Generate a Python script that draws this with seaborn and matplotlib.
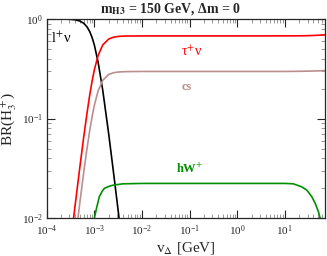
import matplotlib
matplotlib.use("Agg")
import matplotlib.pyplot as plt
import seaborn as sns
import pandas as pd
from matplotlib.ticker import LogLocator, NullFormatter

# ---------------- data ----------------
v_main = [1e-4, 2e-4, 3e-4, 4e-4, 5e-4, 6e-4, 7e-4, 8e-4, 9e-4, 1e-3,
          1.2e-3, 1.5e-3, 2e-3, 2.5e-3, 3e-3, 3.5e-3, 4e-3, 5e-3, 1e-2,
          0.1, 1.0, 10.0, 20.0, 30.0, 40.0, 50.0, 60.0, 70.0]
br_lnu = [1.0, 0.9987, 0.993, 0.979, 0.951, 0.903, 0.833, 0.746, 0.647, 0.546,
          0.367, 0.192, 0.070, 0.0298, 0.0146, 0.0079, 0.0047, 0.0019, 0.0003,
          1e-5, 1e-5, 1e-5, 1e-5, 1e-5, 1e-5, 1e-5, 1e-5, 1e-5]
br_taunu = [5.6e-5, 9.0e-4, 4.6e-3, 0.0142, 0.0336, 0.0662, 0.113, 0.173, 0.240, 0.309,
            0.430, 0.549, 0.628, 0.655, 0.665, 0.670, 0.672, 0.674, 0.675,
            0.675, 0.675, 0.676, 0.677, 0.679, 0.682, 0.686, 0.689, 0.691]
br_cs = [2.5e-5, 4.0e-4, 2.0e-3, 0.00627, 0.0148, 0.0292, 0.050, 0.0763, 0.106, 0.136,
         0.190, 0.242, 0.277, 0.288, 0.292, 0.294, 0.295, 0.296, 0.297,
         0.297, 0.297, 0.297, 0.298, 0.299, 0.300, 0.301, 0.302, 0.303]

v_hw = [9.5e-4, 1.0e-3, 1.12e-3, 1.27e-3, 1.45e-3, 1.62e-3, 2.0e-3, 2.45e-3, 4e-3,
        1e-2, 0.1, 1.0, 10.0, 15.1, 22.7, 29.0, 36.9, 43.4, 50.8, 55.2, 60.0, 70.0]
br_hw = [0.008, 0.0100, 0.0128, 0.0164, 0.0185, 0.0199, 0.0208, 0.0214, 0.0221,
         0.0223, 0.0223, 0.0223, 0.0223, 0.0221, 0.0206, 0.0191, 0.0164, 0.0141,
         0.0116, 0.0100, 0.0085, 0.006]

labels = ["l$^{+}$ν", "τ$^{+}$ν", "cs", "hW$^{+}$"]
title = r"m$_{\mathbf{H3}}$ = 150 GeV, Δm = 0"
xlabel = r"v$_{\Delta}$ [GeV]"
ylabel = r"BR(H$_3^+$)"

# ---------------- style ----------------
sns.set_style("ticks")
plt.rcParams["font.family"] = ["Liberation Serif", "DejaVu Serif"]
plt.rcParams["mathtext.fontset"] = "stix"

fig = plt.figure(figsize=(3.27, 2.56), dpi=100)
ax = fig.add_axes([0.143, 0.148, 0.851, 0.778])

lw = 1.2
df_main = pd.DataFrame({"v": v_main, "lnu": br_lnu, "taunu": br_taunu, "cs": br_cs})
df_hw = pd.DataFrame({"v": v_hw, "hw": br_hw})
sns.lineplot(data=df_main, x="v", y="lnu", ax=ax, color="black", lw=lw, sort=False)
sns.lineplot(data=df_main, x="v", y="taunu", ax=ax, color="#ff0000", lw=lw, sort=False)
sns.lineplot(data=df_main, x="v", y="cs", ax=ax, color="#bc8f8f", lw=lw, sort=False)
sns.lineplot(data=df_hw, x="v", y="hw", ax=ax, color="#009000", lw=lw, sort=False)

ax.set_xscale("log")
ax.set_yscale("log")
ax.set_xlim(1e-4, 70)
ax.set_ylim(1e-2, 1)

ax.xaxis.set_major_locator(LogLocator(base=10, numticks=20))
ax.xaxis.set_minor_locator(LogLocator(base=10, subs=range(2, 10), numticks=20))
ax.xaxis.set_minor_formatter(NullFormatter())
ax.yaxis.set_major_locator(LogLocator(base=10, numticks=20))
ax.yaxis.set_minor_locator(LogLocator(base=10, subs=range(2, 10), numticks=20))
ax.yaxis.set_minor_formatter(NullFormatter())

ax.tick_params(which="both", direction="in", top=True, right=True, labelsize=8)
ax.tick_params(which="major", length=6, width=0.8)
ax.tick_params(axis="x", which="major", pad=4)
ax.tick_params(axis="y", which="major", pad=3)
ax.tick_params(which="minor", length=3, width=0.6, color="#888888")
for s in ax.spines.values():
    s.set_linewidth(0.9)

ax.set_xlabel(xlabel, fontsize=11, labelpad=1)
ax.set_ylabel(ylabel, fontsize=11)
ax.yaxis.set_label_coords(-0.1, 0.5)

ax.text(2.0e-4, 0.645, labels[0], color="black", fontsize=10.5, ha="center", va="center")
ax.text(0.111, 0.47, labels[1], color="#ff0000", fontsize=10, ha="center", va="center")
ax.text(0.087, 0.206, labels[2], color="#bc8f8f", fontsize=9, fontweight="bold",
        ha="center", va="center")
ax.text(0.102, 0.0316, labels[3], color="#009000", fontsize=9, fontweight="bold",
        ha="center", va="center")

fig.text(0.523, 0.963, title, fontsize=10, fontweight="bold", ha="center", va="center")

fig.savefig("out.png", dpi=100)
